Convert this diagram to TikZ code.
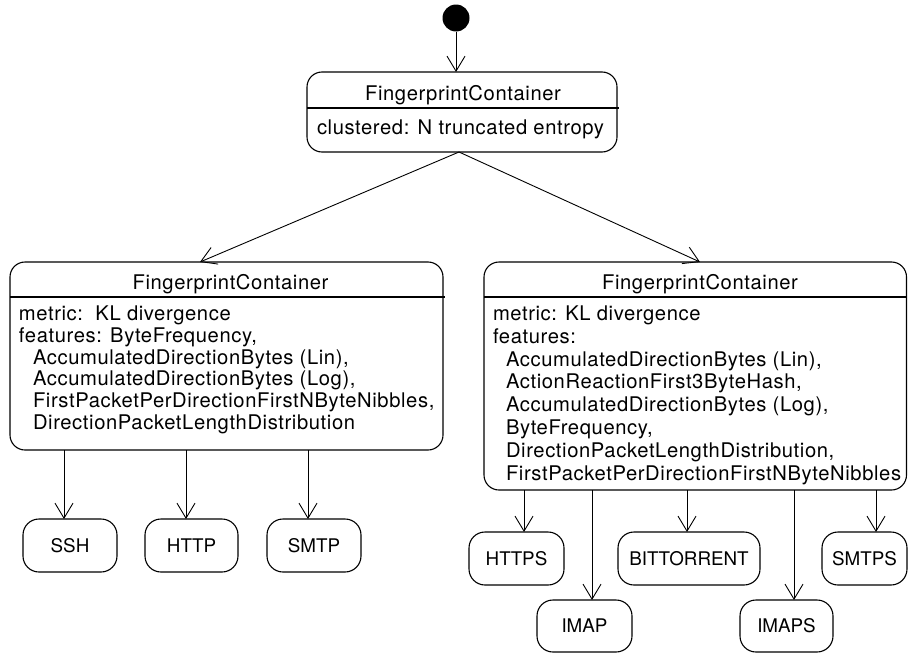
\documentclass[tikz,border=0pt]{standalone}
\usepackage{fontspec}
\setmainfont{TeX Gyre Heros}[LetterSpace=3]
\newfontfamily\labelfont{TeX Gyre Heros}
\usetikzlibrary{arrows.meta}
\begin{document}
\begin{tikzpicture}[x=1pt,y=-1pt,
  every node/.style={inner sep=0pt, outer sep=0pt, font=\fontsize{20.2}{22}\selectfont},
  container/.style={draw, line width=1.1pt, rounded corners=15pt},
  leaf/.style={draw, line width=1.1pt, rounded corners=16pt, minimum height=53pt,
    font=\labelfont\fontsize{18.8}{22}\selectfont},
  sep/.style={line width=1.1pt},
  flow/.style={draw, line width=0.9pt,
    -{Straight Barb[length=15pt, width=18pt, line width=0.9pt]}},
  txt/.style={anchor=base west},
  ttl/.style={anchor=base}]
\useasboundingbox (0,0) rectangle (908,653);

% initial state
\node[circle, fill, minimum size=27pt] (init) at (456,18) {};

% root container
\node[container, minimum width=310pt, minimum height=80pt] (root) at (462,112) {};
\node[ttl] (rootT) at (463,100.5) {FingerprintContainer};
\draw[sep] (root.west |- 0,108) -- ([xshift=2pt]root.east |- 0,108);
\node[txt] (rootA) at (317,134.5) {clustered: N truncated entropy};

% left container
\node[container, minimum width=433pt, minimum height=188pt] (lbox) at (226.5,356) {};
\node[ttl] (lboxT) at (230.5,289.7) {FingerprintContainer};
\draw[sep] (lbox.west |- 0,297) -- ([xshift=2pt]lbox.east |- 0,297);
\node[txt] (l1) at (19,320.5) {metric:\ \ KL divergence};
\node[txt] (l2) at (19,342.3) {features: ByteFrequency,};
\node[txt] (l3) at (33,364.1) {AccumulatedDirectionBytes (Lin),};
\node[txt] (l4) at (33,385.9) {AccumulatedDirectionBytes (Log),};
\node[txt] (l5) at (33,407.7) {FirstPacketPerDirectionFirstNByteNibbles,};
\node[txt] (l6) at (33,429.5) {DirectionPacketLengthDistribution};

% right container
\node[container, minimum width=422.5pt, minimum height=228pt] (rbox) at (695.25,376) {};
\node[ttl] (rboxT) at (700,289.7) {FingerprintContainer};
\draw[sep] (rbox.west |- 0,297) -- (rbox.east |- 0,297);
\node[txt] (r1) at (493,320.5) {metric: KL divergence};
\node[txt] (r2) at (493,343.3) {features:};
\node[txt] (r3) at (506,366.1) {AccumulatedDirectionBytes (Lin),};
\node[txt] (r4) at (506,388.9) {ActionReactionFirst3ByteHash,};
\node[txt] (r5) at (506,411.7) {AccumulatedDirectionBytes (Log),};
\node[txt] (r6) at (506,434.5) {ByteFrequency,};
\node[txt] (r7) at (506,457.3) {DirectionPacketLengthDistribution,};
\node[txt] (r8) at (506,480.1) {FirstPacketPerDirectionFirstNByteNibbles};

% leaf states
\node[leaf, minimum width=94pt] (ssh) at (70,545.5) {SSH};
\node[leaf, minimum width=93pt] (http) at (191.5,545.5) {HTTP};
\node[leaf, minimum width=94pt] (smtp) at (314,545.5) {SMTP};
\node[leaf, minimum width=95pt] (https) at (516.5,558.5) {HTTPS};
\node[leaf, minimum width=142pt] (bt) at (689,558.5) {BITTORRENT};
\node[leaf, minimum width=85pt] (smtps) at (864.5,558.5) {SMTPS};
\node[leaf, minimum width=95pt, minimum height=52pt] (imap) at (584.5,626) {IMAP};
\node[leaf, minimum width=93pt, minimum height=52pt] (imaps) at (786.5,626) {IMAPS};

% transitions
\draw[flow] (init.south) -- (init.south |- root.north);
\draw[flow] (root.south -| 459,0) -- (lbox.north -| 200,0);
\draw[flow] (root.south -| 459,0) -- (rbox.north -| 700,0);

\draw[flow] (lbox.south -| 64,0) -- (ssh.north -| 64,0);
\draw[flow] (lbox.south -| 186,0) -- (http.north -| 186,0);
\draw[flow] (lbox.south -| 308,0) -- (smtp.north -| 308,0);

\draw[flow] (rbox.south -| 524,0) -- (https.north -| 524,0);
\draw[flow] (rbox.south -| 592,0) -- (imap.north -| 592,0);
\draw[flow] (rbox.south -| 687,0) -- (bt.north -| 687,0);
\draw[flow] (rbox.south -| 794,0) -- (imaps.north -| 794,0);
\draw[flow] (rbox.south -| 876,0) -- (smtps.north -| 876,0);
\end{tikzpicture}
\end{document}
